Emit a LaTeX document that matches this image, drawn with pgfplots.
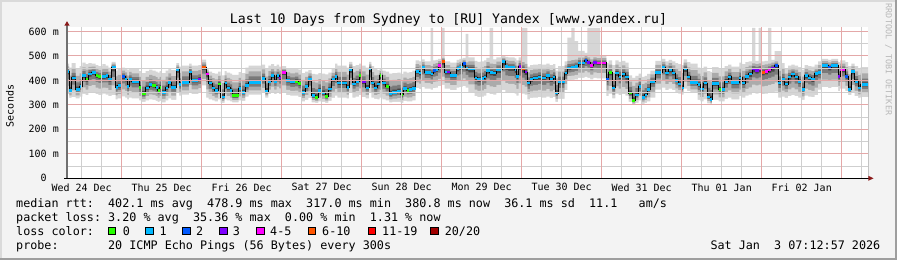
\documentclass[border=0pt]{standalone}
\usepackage{pgfplots}
\pgfplotsset{compat=1.18}
\usepackage{pgfplotstable}
\usepackage{fontspec}
\setmainfont{DejaVu Sans}
\setmonofont{DejaVu Sans Mono}
\frenchspacing
\definecolor{bg}{HTML}{F3F3F3}
\definecolor{shadeA}{HTML}{DADADA}
\definecolor{shadeB}{HTML}{9E9E9E}
\definecolor{mgrid}{HTML}{E4A8A8}
\definecolor{gridc}{HTML}{CFCFCF}
\definecolor{axc}{HTML}{707070}
\definecolor{arr}{HTML}{8B1A1A}
\definecolor{wm}{HTML}{B8B8B8}
\definecolor{s1}{HTML}{D6D6D6}
\definecolor{s2}{HTML}{ABABAB}
\definecolor{s3}{HTML}{7A7A7A}
\definecolor{s4}{HTML}{444444}
\definecolor{lc0}{HTML}{26FF00}
\definecolor{lc1}{HTML}{00B8FF}
\definecolor{lc2}{HTML}{0059FF}
\definecolor{lc3}{HTML}{7E00FF}
\definecolor{lc4}{HTML}{FF00FF}
\definecolor{lc5}{HTML}{FF5500}
\definecolor{lc6}{HTML}{FF0000}
\definecolor{lc7}{HTML}{A10000}
\newcommand\lgf{\ttfamily\fontsize{11.75}{14}\selectfont}
\newcommand\axf{\ttfamily\fontsize{10}{12}\selectfont}
\newcommand\ttlf{\ttfamily\fontsize{13.2}{16}\selectfont}
\newcommand\wmf{\ttfamily\fontsize{8.4}{10}\selectfont}

% t = hours since Wed 24 Dec 00:00; med = median rtt (ms); c = loss class; dt = step length; lo/hi/mx = smoke range
\pgfplotstableread{
t med c dt lo hi mx
7.6 437 1 0.6 345 468 468
8.2 359 1 0.8 328 452 452
9.0 410 1 1.2 332 470 470
10.2 362 1 1.2 326 448 448
11.4 375 1 0.8 334 458 458
12.2 419 1 1.0 345 472 472
13.2 403 0 0.8 340 466 466
14.0 426 1 1.0 350 470 470
15.0 433 1 1.2 352 468 468
16.2 420 0 0.8 344 462 462
17.0 416 0 1.2 340 458 458
18.2 416 1 1.0 346 466 466
19.2 419 1 0.8 342 460 460
20.0 405 1 1.0 336 452 452
21.0 453 1 1.2 340 476 476
22.2 371 1 0.6 322 440 440
22.8 378 1 1.2 326 446 446
24.0 416 2 1.0 335 452 452
25.0 405 1 0.6 330 448 448
25.6 375 1 0.6 322 444 444
26.2 405 1 0.8 330 450 450
27.0 396 1 2.2 326 446 446
29.2 371 0 0.8 318 438 438
30.0 345 0 1.2 312 430 430
31.2 369 1 1.0 318 438 438
32.2 382 1 1.0 322 444 444
33.2 378 0 1.0 320 440 440
34.2 371 1 0.6 316 436 436
34.8 359 0 0.6 312 432 432
35.4 371 0 0.6 316 438 438
36.0 351 1 1.2 310 430 430
37.2 369 1 0.8 318 440 440
38.0 392 1 0.8 326 448 448
38.8 371 1 1.6 320 442 442
40.4 444 1 0.8 350 470 470
41.2 382 1 0.8 338 456 456
42.0 392 1 2.2 342 460 460
44.2 434 1 0.8 352 468 468
45.0 399 1 2.0 344 460 460
47.0 405 3 1.0 348 462 462
48.0 453 5 1.3 380 485 485
49.3 426 4 0.8 330 448 448
50.1 389 1 1.0 322 436 436
51.1 369 1 0.8 318 430 430
51.9 359 1 1.0 314 428 428
52.9 385 0 0.8 322 436 436
53.7 332 1 1.2 308 420 420
54.9 389 1 0.6 322 438 438
55.5 369 1 1.0 318 432 432
56.5 359 1 0.6 314 428 428
57.1 337 0 2.0 310 422 422
59.1 366 1 0.8 318 434 434
59.9 351 1 1.2 316 430 430
61.1 378 1 1.0 334 452 452
62.1 392 1 3.9 342 460 460
66.0 408 1 1.0 348 464 464
67.0 355 1 1.0 330 448 448
68.0 396 1 0.8 344 460 460
68.8 419 1 0.9 350 466 466
69.7 396 1 0.8 344 458 458
70.5 419 1 0.7 350 464 464
71.2 410 3 0.8 344 456 456
72.0 433 4 1.3 350 458 458
73.3 400 1 1.2 340 450 450
74.5 393 1 1.5 338 448 448
76.0 396 0 1.0 338 450 450
77.0 386 0 1.0 332 444 444
78.0 351 1 1.0 314 430 430
79.0 375 1 1.0 320 436 436
80.0 405 1 1.0 328 442 442
81.0 337 1 1.0 310 426 426
82.0 330 0 1.0 308 424 424
83.0 359 1 1.0 314 430 430
84.0 348 1 1.0 312 428 428
85.0 333 0 1.0 308 424 424
86.0 364 1 1.0 316 432 432
87.0 403 1 1.0 328 446 446
88.0 416 1 0.7 338 468 468
88.7 389 1 2.8 330 460 460
91.5 371 1 0.7 326 452 452
92.2 444 1 1.0 348 476 476
93.2 385 1 1.0 330 458 458
94.2 396 1 1.0 334 462 462
95.2 419 0 0.7 340 468 468
95.9 393 3 1.3 332 460 460
97.2 369 1 1.0 326 452 452
98.2 446 1 0.7 348 476 476
98.9 389 1 0.8 330 458 458
99.7 369 1 1.0 324 448 448
100.7 385 1 0.7 322 442 442
101.4 419 0 0.8 330 448 448
102.2 389 1 1.0 322 440 440
103.2 375 0 1.0 318 436 436
104.2 345 1 1.0 310 428 428
105.2 351 1 1.5 312 430 430
106.7 355 1 1.0 312 432 432
107.7 341 0 0.8 308 426 426
108.5 366 1 1.0 316 436 436
109.5 359 0 0.8 314 432 432
110.3 362 1 0.9 314 434 434
111.2 367 1 1.0 318 440 440
112.2 437 1 1.0 368 482 482
113.2 430 1 0.7 364 478 478
113.9 453 1 1.0 372 486 486
114.9 433 1 1.8 366 478 478
116.7 426 1 0.7 362 476 614
117.4 441 2 0.8 368 482 482
118.2 444 1 0.7 370 484 484
118.9 461 4 1.0 376 488 488
119.9 478 5 1.0 382 500 614
120.9 434 1 0.8 366 478 478
121.7 434 3 0.8 366 478 478
122.5 419 1 2.0 360 472 472
124.5 448 1 0.8 370 484 484
125.3 453 1 1.0 372 488 488
126.3 468 2 0.9 376 492 492
127.2 450 1 0.8 370 486 590
128.0 446 1 1.9 350 494 494
129.9 410 1 0.8 336 480 480
130.7 403 1 1.0 332 476 476
131.7 407 1 1.0 334 478 478
132.7 414 1 0.7 338 482 482
133.4 441 1 1.0 348 492 492
134.4 433 1 1.0 344 488 614
135.4 430 1 1.0 342 486 486
136.4 444 1 1.7 348 494 494
138.1 478 1 1.0 360 500 500
139.1 457 1 0.8 352 496 496
139.9 453 1 2.0 350 494 494
141.9 444 1 0.5 346 490 490
142.4 416 1 0.7 338 482 482
143.1 457 3 0.8 350 494 494
143.9 446 5 1.0 346 490 614
144.9 434 3 0.8 342 486 614
145.7 389 1 0.8 322 456 456
146.5 405 1 0.9 328 462 462
147.4 410 1 1.5 330 464 464
148.9 414 1 1.0 332 466 466
149.9 410 1 1.5 330 464 464
151.4 420 1 1.0 334 468 468
152.4 405 1 1.0 328 462 462
153.4 414 1 0.7 332 466 466
154.1 348 1 0.8 312 440 440
154.9 393 1 2.0 324 458 458
156.9 430 1 0.8 360 478 478
157.7 450 1 1.2 400 496 575
158.9 453 1 1.0 402 498 614
159.9 457 1 1.0 404 500 560
160.9 471 1 2.0 410 504 520
162.9 482 2 0.8 414 508 512
163.7 474 3 0.8 410 504 614
164.5 460 4 1.0 404 500 614
165.5 474 3 1.0 410 504 614
166.5 471 4 1.0 408 502 614
167.5 471 4 1.9 408 502 502
169.4 403 2 0.7 336 470 470
170.1 432 0 1.0 346 482 482
171.1 369 1 1.0 326 462 462
172.1 430 1 1.0 346 482 482
173.1 414 1 1.0 340 476 476
174.1 426 1 1.0 344 480 480
175.1 414 1 1.0 338 472 472
176.1 348 0 1.0 312 420 420
177.1 318 0 1.0 300 410 410
178.1 341 1 1.0 308 418 418
179.1 375 1 0.8 318 428 428
179.9 330 1 1.0 304 414 414
180.9 341 1 0.7 308 418 418
181.6 362 1 1.0 314 426 426
182.6 396 1 1.5 330 440 440
184.1 433 1 2.0 362 480 480
186.1 453 1 1.0 370 488 488
187.1 430 1 1.0 360 478 478
188.1 444 1 1.0 366 484 484
189.1 430 1 1.0 360 478 478
190.1 400 1 0.8 350 470 470
190.9 385 1 1.0 346 466 466
191.9 369 1 0.7 342 462 462
192.6 446 1 1.0 366 486 486
193.6 414 1 1.0 356 474 474
194.6 392 1 2.2 348 468 468
196.8 382 1 0.8 320 452 452
197.6 364 1 1.0 314 446 446
198.6 389 1 1.0 322 456 456
199.6 332 1 1.0 306 438 438
200.6 321 1 0.5 300 434 434
201.1 386 1 2.0 320 454 454
203.1 362 0 0.8 314 446 446
203.9 362 1 1.0 314 446 446
204.9 396 1 1.0 324 458 458
205.9 414 1 1.0 330 464 464
206.9 392 1 2.4 322 456 456
209.3 410 1 0.8 336 472 472
210.1 389 1 1.0 330 466 466
211.1 416 1 1.0 338 474 474
212.1 426 1 1.0 342 478 478
213.1 446 3 1.0 348 482 614
214.1 441 3 1.0 346 480 480
215.1 446 4 0.8 348 482 614
215.9 433 5 1.0 344 478 478
216.9 437 4 1.0 346 480 480
217.9 444 4 1.0 348 482 614
218.9 450 3 1.0 350 484 484
219.9 461 2 1.0 354 486 519
220.9 389 1 1.0 330 466 519
221.9 403 1 1.0 334 470 470
222.9 385 1 1.0 328 450 450
223.9 414 1 1.0 336 460 460
224.9 426 1 1.0 340 464 464
225.9 414 1 1.0 336 460 460
226.9 396 1 1.0 330 454 454
227.9 362 1 1.0 320 444 444
228.9 419 1 1.0 338 462 462
229.9 410 1 1.0 334 458 458
230.9 403 1 1.0 332 456 456
231.9 427 1 1.0 340 464 464
232.9 433 1 1.0 362 478 478
233.9 461 1 2.0 372 488 488
235.9 453 2 1.0 368 484 484
236.9 461 1 2.0 372 488 488
238.9 416 3 0.6 356 474 474
239.5 444 4 1.6 366 482 482
241.1 416 2 0.8 356 474 474
241.9 362 1 1.0 340 458 458
242.9 437 1 1.0 350 468 468
243.9 396 1 1.0 336 458 458
244.9 369 1 0.8 328 450 450
245.7 382 1 2.2 332 454 454
247.9 382 9 0.0 332 454 454
}\data

\begin{document}
\begin{tikzpicture}[x=1pt,y=1pt]
\fill[bg] (0,0) rectangle (897,260);
\fill[shadeA] (0,258) rectangle (897,260);
\fill[shadeA] (0,0) rectangle (2,260);
\fill[shadeB] (0,0) rectangle (897,2);
\fill[shadeB] (895,0) rectangle (897,260);
\fill[white] (67,81.7) rectangle (868,233);

\begin{axis}[
  at={(67pt,81.7pt)}, anchor=south west,
  scale only axis, width=801pt, height=151.3pt,
  xmin=7.6, xmax=247.9, ymin=0, ymax=618,
  axis line style={draw=none},
  xtick={12,36,60,84,108,132,156,180,204,228},
  xticklabels={Wed 24 Dec,Thu 25 Dec,Fri 26 Dec,Sat 27 Dec,Sun 28 Dec,Mon 29 Dec,Tue 30 Dec,Wed 31 Dec,Thu 01 Jan,Fri 02 Jan},
  ytick={0,100,200,300,400,500,600},
  yticklabels={{0\hphantom{00}},{100 m},{200 m},{300 m},{400 m},{500 m},{600 m}},
  major tick length=0pt, minor tick length=0pt,
  xticklabel style={font=\axf, anchor=north, inner sep=0pt, yshift=-5pt},
  yticklabel style={font=\axf, anchor=east, inner sep=0pt, xshift=-8pt},
  clip=true,
]
% smoke: nested bands, painted from the outside in
\addplot[const plot, draw=none, fill=s1, forget plot] table[x=t,y=mx]{\data} \closedcycle;
\addplot[const plot, draw=none, fill=s2, forget plot] table[x=t,y expr={\thisrow{med}+0.65*(\thisrow{hi}-\thisrow{med})}]{\data} \closedcycle;
\addplot[const plot, draw=none, fill=s3, forget plot] table[x=t,y expr={\thisrow{med}+0.35*(\thisrow{hi}-\thisrow{med})}]{\data} \closedcycle;
\addplot[const plot, draw=none, fill=s4, forget plot] table[x=t,y expr={\thisrow{med}+max(5,0.14*(\thisrow{hi}-\thisrow{med}))}]{\data} \closedcycle;
\addplot[const plot, draw=none, fill=s3, forget plot] table[x=t,y expr={\thisrow{med}-max(6,0.14*(\thisrow{med}-\thisrow{lo}))}]{\data} \closedcycle;
\addplot[const plot, draw=none, fill=s2, forget plot] table[x=t,y expr={\thisrow{med}-0.35*(\thisrow{med}-\thisrow{lo})}]{\data} \closedcycle;
\addplot[const plot, draw=none, fill=s1, forget plot] table[x=t,y expr={\thisrow{med}-0.65*(\thisrow{med}-\thisrow{lo})}]{\data} \closedcycle;
\addplot[const plot, draw=none, fill=white, forget plot] table[x=t,y=lo]{\data} \closedcycle;
% median line
\addplot[const plot, black, line width=1pt, mark=none, forget plot] table[x=t,y=med]{\data};
% loss colour bars: one horizontal bar per step
\pgfplotsinvokeforeach{0,1,2,3,4,5}{
\addplot[forget plot, mark=none, draw=lc#1, line width=2.6pt,
  quiver={u=\thisrow{dt}, v=0}]
  table[x=t, y expr={ifthenelse(\thisrow{c}==#1,\thisrow{med},-1000)}]{\data};
}
% grid drawn over the graph, as rrdtool does
\pgfplotsinvokeforeach{12,18,30,36,42,54,60,66,78,84,90,102,108,114,126,132,138,150,156,162,174,180,186,198,204,210,222,228,234,246}{
  \draw[gridc, line width=1pt] (axis cs:#1,0) -- (axis cs:#1,618);
}
\pgfplotsinvokeforeach{50,150,250,350,450,550}{
  \draw[gridc, line width=1pt] (axis cs:7.6,#1) -- (axis cs:247.9,#1);
}
\pgfplotsinvokeforeach{24,48,72,96,120,144,168,192,216,240}{
  \draw[mgrid, line width=1pt] (axis cs:#1,0) -- (axis cs:#1,618);
}
\pgfplotsinvokeforeach{100,200,300,400,500,600}{
  \draw[mgrid, line width=1pt] (axis cs:7.6,#1) -- (axis cs:247.9,#1);
}
\end{axis}

% axes
\draw[axc, line width=1.2pt] (67,81.7) -- (67,234.5);
\draw[black, line width=1pt] (64,81.7) -- (869,81.7);
\fill[arr] (64.3,234.3) -- (69.7,234.3) -- (67,238.8) -- cycle;
\fill[arr] (868.3,79.2) -- (868.3,84.2) -- (873.5,81.7) -- cycle;

% titles
\node[anchor=base, font=\ttlf, inner sep=0pt] at (448.5,236) {Last 10 Days from Sydney to [RU] Yandex [www.yandex.ru]};
\node[rotate=90, font=\axf, inner sep=0pt] at (10,154) {Seconds};
\node[rotate=-90, font=\wmf, text=wm, inner sep=0pt] at (888.5,200.5) {RRDTOOL / TOBI OETIKER};

% legend
\node[anchor=base west, font=\lgf, inner sep=0pt] at (16,52.7) {median~rtt:~~402.1~ms~avg~~478.9~ms~max~~317.0~ms~min~~380.8~ms~now~~36.1~ms~sd~~11.1~~~am/s};
\node[anchor=base west, font=\lgf, inner sep=0pt] at (16,38.3) {packet~loss:~3.20~\%~avg~~35.36~\%~max~~0.00~\%~min~~1.31~\%~now};
\node[anchor=base west, font=\lgf, inner sep=0pt] at (16,24.3) {loss~color:};
\node[anchor=base west, font=\lgf, inner sep=0pt] at (16,10.5) {probe:~~~~~~~20~ICMP~Echo~Pings~(56~Bytes)~every~300s};
\node[anchor=base east, font=\lgf, inner sep=0pt] at (880.5,10.5) {Sat~Jan~~3~07:12:57~2026};
\foreach \bx/\tx/\col/\lab in {108.3/122.6/lc0/0, 145.7/159.3/lc1/1, 182.7/196/lc2/2, 219.7/232.6/lc3/3, 256.7/270/lc4/4-5, 308.3/322/lc5/6-10, 368.3/382/lc6/11-19, 430.7/444.6/lc7/20\slash 20} {
  \filldraw[fill=\col, draw=black, line width=0.8pt] (\bx,25.4) rectangle ++(7.4,7.4);
  \node[anchor=base west, font=\lgf, inner sep=0pt] at (\tx,24.3) {\lab};
}
\end{tikzpicture}
\end{document}
